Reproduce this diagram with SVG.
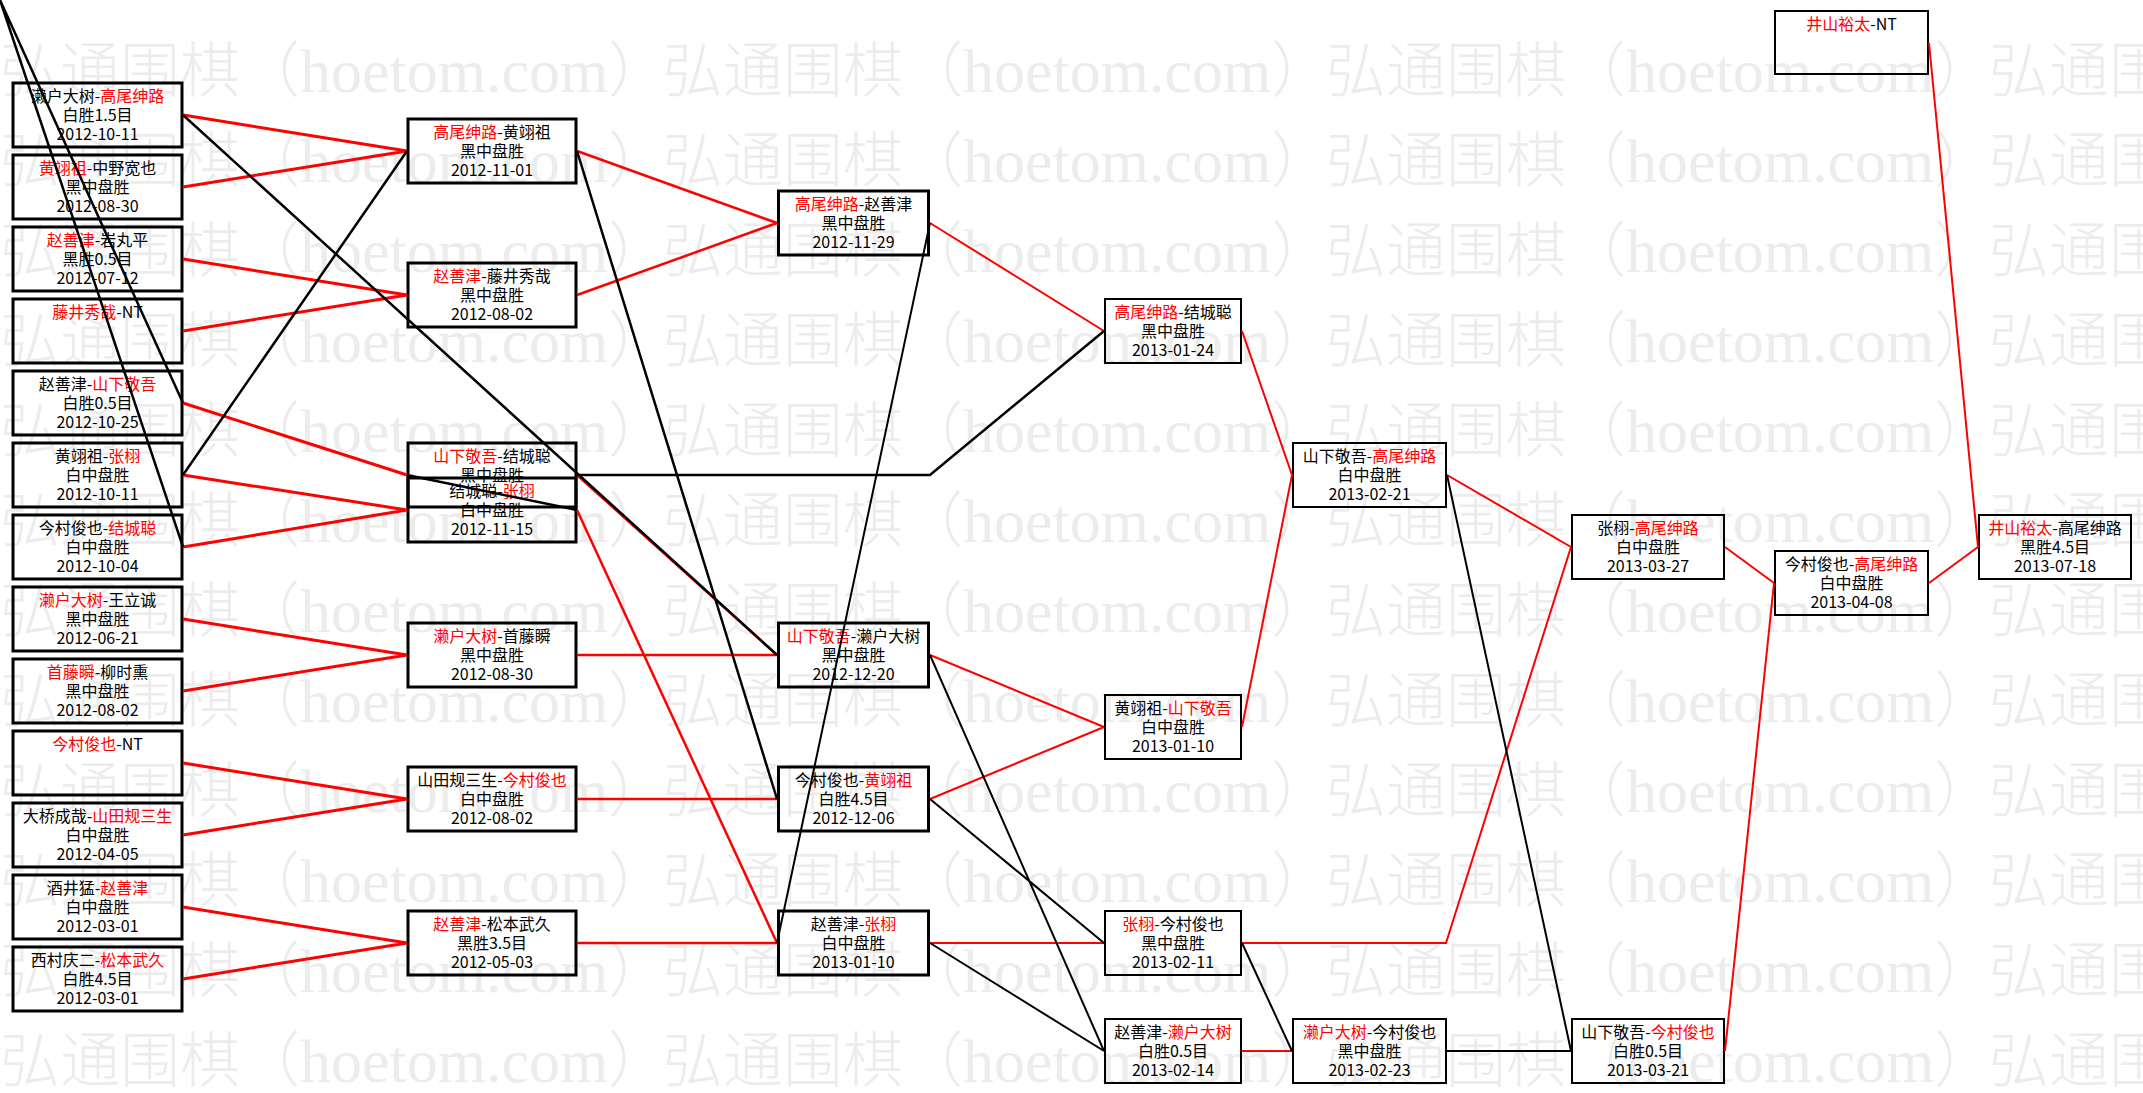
<svg xmlns="http://www.w3.org/2000/svg" width="2143" height="1093" viewBox="0 0 2143 1093">
<style>
.bg{fill:#ffffff}
.box{fill:none;stroke:#000}
.s3{stroke-width:3}
.s2{stroke-width:2}
.t{font-family:"Noto Sans CJK SC","Noto Sans CJK JP",sans-serif;font-size:16px;text-anchor:middle;fill:#000}
.r{fill:#ff0000}
.cr{stroke:#ff0000;fill:none}
.ck{stroke:#000;fill:none}
.w3{stroke-width:3}
.w25{stroke-width:2.5}
.w2{stroke-width:2}
.wmt{font-family:"Noto Sans CJK SC",sans-serif;font-size:60px;font-weight:300;fill:#ececec}
.wml{font-family:"Liberation Serif",serif;font-size:62px;font-weight:400}
</style>
<defs>
<pattern id="wm" patternUnits="userSpaceOnUse" x="0" y="22" width="663" height="90">
<text class="wmt" x="0" y="70">弘通围棋（<tspan class="wml">hoetom.com</tspan>）</text>
</pattern>
</defs>
<rect class="bg" x="0" y="0" width="2143" height="1093"/>
<rect x="0" y="22" width="2143" height="1071" fill="url(#wm)"/>

<g id="nodes">
<!-- column 1 -->
<g id="c1n1"><rect class="box s3" x="13" y="83" width="169" height="64"/><text class="t" x="97.5" y="102">濑户大树-<tspan class="r">高尾绅路</tspan></text><text class="t" x="97.5" y="121">白胜1.5目</text><text class="t" x="97.5" y="140">2012-10-11</text></g>
<g id="c1n2"><rect class="box s3" x="13" y="155" width="169" height="64"/><text class="t" x="97.5" y="174"><tspan class="r">黄翊祖</tspan>-中野宽也</text><text class="t" x="97.5" y="193">黑中盘胜</text><text class="t" x="97.5" y="212">2012-08-30</text></g>
<g id="c1n3"><rect class="box s3" x="13" y="227" width="169" height="64"/><text class="t" x="97.5" y="246"><tspan class="r">赵善津</tspan>-岩丸平</text><text class="t" x="97.5" y="265">黑胜0.5目</text><text class="t" x="97.5" y="284">2012-07-12</text></g>
<g id="c1n4"><rect class="box s3" x="13" y="299" width="169" height="64"/><text class="t" x="97.5" y="318"><tspan class="r">藤井秀哉</tspan>-NT</text></g>
<g id="c1n5"><rect class="box s3" x="13" y="371" width="169" height="64"/><text class="t" x="97.5" y="390">赵善津-<tspan class="r">山下敬吾</tspan></text><text class="t" x="97.5" y="409">白胜0.5目</text><text class="t" x="97.5" y="428">2012-10-25</text></g>
<g id="c1n6"><rect class="box s3" x="13" y="443" width="169" height="64"/><text class="t" x="97.5" y="462">黄翊祖-<tspan class="r">张栩</tspan></text><text class="t" x="97.5" y="481">白中盘胜</text><text class="t" x="97.5" y="500">2012-10-11</text></g>
<g id="c1n7"><rect class="box s3" x="13" y="515" width="169" height="64"/><text class="t" x="97.5" y="534">今村俊也-<tspan class="r">结城聪</tspan></text><text class="t" x="97.5" y="553">白中盘胜</text><text class="t" x="97.5" y="572">2012-10-04</text></g>
<g id="c1n8"><rect class="box s3" x="13" y="587" width="169" height="64"/><text class="t" x="97.5" y="606"><tspan class="r">濑户大树</tspan>-王立诚</text><text class="t" x="97.5" y="625">黑中盘胜</text><text class="t" x="97.5" y="644">2012-06-21</text></g>
<g id="c1n9"><rect class="box s3" x="13" y="659" width="169" height="64"/><text class="t" x="97.5" y="678"><tspan class="r">首藤瞬</tspan>-柳时熏</text><text class="t" x="97.5" y="697">黑中盘胜</text><text class="t" x="97.5" y="716">2012-08-02</text></g>
<g id="c1n10"><rect class="box s3" x="13" y="731" width="169" height="64"/><text class="t" x="97.5" y="750"><tspan class="r">今村俊也</tspan>-NT</text></g>
<g id="c1n11"><rect class="box s3" x="13" y="803" width="169" height="64"/><text class="t" x="97.5" y="822">大桥成哉-<tspan class="r">山田规三生</tspan></text><text class="t" x="97.5" y="841">白中盘胜</text><text class="t" x="97.5" y="860">2012-04-05</text></g>
<g id="c1n12"><rect class="box s3" x="13" y="875" width="169" height="64"/><text class="t" x="97.5" y="894">酒井猛-<tspan class="r">赵善津</tspan></text><text class="t" x="97.5" y="913">白中盘胜</text><text class="t" x="97.5" y="932">2012-03-01</text></g>
<g id="c1n13"><rect class="box s3" x="13" y="947" width="169" height="64"/><text class="t" x="97.5" y="966">西村庆二-<tspan class="r">松本武久</tspan></text><text class="t" x="97.5" y="985">白胜4.5目</text><text class="t" x="97.5" y="1004">2012-03-01</text></g>

<!-- column 2 -->
<g id="c2n1"><rect class="box s3" x="408" y="119" width="168" height="64"/><text class="t" x="492" y="138"><tspan class="r">高尾绅路</tspan>-黄翊祖</text><text class="t" x="492" y="157">黑中盘胜</text><text class="t" x="492" y="176">2012-11-01</text></g>
<g id="c2n2"><rect class="box s3" x="408" y="263" width="168" height="64"/><text class="t" x="492" y="282"><tspan class="r">赵善津</tspan>-藤井秀哉</text><text class="t" x="492" y="301">黑中盘胜</text><text class="t" x="492" y="320">2012-08-02</text></g>
<g id="c2n3"><rect class="box s3" x="408" y="443" width="168" height="64"/><text class="t" x="492" y="462"><tspan class="r">山下敬吾</tspan>-结城聪</text><text class="t" x="492" y="481">黑中盘胜</text></g>
<g id="c2n4"><rect class="box s3" x="408" y="478" width="168" height="64"/><text class="t" x="492" y="497">结城聪-<tspan class="r">张栩</tspan></text><text class="t" x="492" y="516">白中盘胜</text><text class="t" x="492" y="535">2012-11-15</text></g>
<g id="c2n5"><rect class="box s3" x="408" y="623" width="168" height="64"/><text class="t" x="492" y="642"><tspan class="r">濑户大树</tspan>-首藤瞬</text><text class="t" x="492" y="661">黑中盘胜</text><text class="t" x="492" y="680">2012-08-30</text></g>
<g id="c2n6"><rect class="box s3" x="408" y="767" width="168" height="64"/><text class="t" x="492" y="786">山田规三生-<tspan class="r">今村俊也</tspan></text><text class="t" x="492" y="805">白中盘胜</text><text class="t" x="492" y="824">2012-08-02</text></g>
<g id="c2n7"><rect class="box s3" x="408" y="911" width="168" height="64"/><text class="t" x="492" y="930"><tspan class="r">赵善津</tspan>-松本武久</text><text class="t" x="492" y="949">黑胜3.5目</text><text class="t" x="492" y="968">2012-05-03</text></g>

<!-- column 3 -->
<g id="c3n1"><rect class="box s3" x="778.5" y="191" width="150" height="64"/><text class="t" x="853.5" y="210"><tspan class="r">高尾绅路</tspan>-赵善津</text><text class="t" x="853.5" y="229">黑中盘胜</text><text class="t" x="853.5" y="248">2012-11-29</text></g>
<g id="c3n2"><rect class="box s3" x="778.5" y="623" width="150" height="64"/><text class="t" x="853.5" y="642"><tspan class="r">山下敬吾</tspan>-濑户大树</text><text class="t" x="853.5" y="661">黑中盘胜</text><text class="t" x="853.5" y="680">2012-12-20</text></g>
<g id="c3n3"><rect class="box s3" x="778.5" y="767" width="150" height="64"/><text class="t" x="853.5" y="786">今村俊也-<tspan class="r">黄翊祖</tspan></text><text class="t" x="853.5" y="805">白胜4.5目</text><text class="t" x="853.5" y="824">2012-12-06</text></g>
<g id="c3n4"><rect class="box s3" x="778.5" y="911" width="150" height="64"/><text class="t" x="853.5" y="930">赵善津-<tspan class="r">张栩</tspan></text><text class="t" x="853.5" y="949">白中盘胜</text><text class="t" x="853.5" y="968">2013-01-10</text></g>

<!-- column 4 -->
<g id="c4n1"><rect class="box s2" x="1105" y="299" width="136" height="64"/><text class="t" x="1173" y="318"><tspan class="r">高尾绅路</tspan>-结城聪</text><text class="t" x="1173" y="337">黑中盘胜</text><text class="t" x="1173" y="356">2013-01-24</text></g>
<g id="c4n2"><rect class="box s2" x="1105" y="695" width="136" height="64"/><text class="t" x="1173" y="714">黄翊祖-<tspan class="r">山下敬吾</tspan></text><text class="t" x="1173" y="733">白中盘胜</text><text class="t" x="1173" y="752">2013-01-10</text></g>
<g id="c4n3"><rect class="box s2" x="1105" y="911" width="136" height="64"/><text class="t" x="1173" y="930"><tspan class="r">张栩</tspan>-今村俊也</text><text class="t" x="1173" y="949">黑中盘胜</text><text class="t" x="1173" y="968">2013-02-11</text></g>
<g id="c4n4"><rect class="box s2" x="1105" y="1019" width="136" height="64"/><text class="t" x="1173" y="1038">赵善津-<tspan class="r">濑户大树</tspan></text><text class="t" x="1173" y="1057">白胜0.5目</text><text class="t" x="1173" y="1076">2013-02-14</text></g>

<!-- column 5 -->
<g id="c5n1"><rect class="box s2" x="1293" y="443" width="153" height="64"/><text class="t" x="1369.5" y="462">山下敬吾-<tspan class="r">高尾绅路</tspan></text><text class="t" x="1369.5" y="481">白中盘胜</text><text class="t" x="1369.5" y="500">2013-02-21</text></g>
<g id="c5n2"><rect class="box s2" x="1293" y="1019" width="153" height="64"/><text class="t" x="1369.5" y="1038"><tspan class="r">濑户大树</tspan>-今村俊也</text><text class="t" x="1369.5" y="1057">黑中盘胜</text><text class="t" x="1369.5" y="1076">2013-02-23</text></g>

<!-- column 6 -->
<g id="c6n1"><rect class="box s2" x="1572" y="515" width="152" height="64"/><text class="t" x="1648" y="534">张栩-<tspan class="r">高尾绅路</tspan></text><text class="t" x="1648" y="553">白中盘胜</text><text class="t" x="1648" y="572">2013-03-27</text></g>
<g id="c6n2"><rect class="box s2" x="1572" y="1019" width="152" height="64"/><text class="t" x="1648" y="1038">山下敬吾-<tspan class="r">今村俊也</tspan></text><text class="t" x="1648" y="1057">白胜0.5目</text><text class="t" x="1648" y="1076">2013-03-21</text></g>

<!-- column 7 -->
<g id="c7n1"><rect class="box s2" x="1775" y="11" width="153" height="63"/><text class="t" x="1851.5" y="30"><tspan class="r">井山裕太</tspan>-NT</text></g>
<g id="c7n2"><rect class="box s2" x="1775" y="551" width="153" height="64"/><text class="t" x="1851.5" y="570">今村俊也-<tspan class="r">高尾绅路</tspan></text><text class="t" x="1851.5" y="589">白中盘胜</text><text class="t" x="1851.5" y="608">2013-04-08</text></g>

<!-- column 8 -->
<g id="c8n1"><rect class="box s2" x="1979" y="515" width="152" height="64"/><text class="t" x="2055" y="534"><tspan class="r">井山裕太</tspan>-高尾绅路</text><text class="t" x="2055" y="553">黑胜4.5目</text><text class="t" x="2055" y="572">2013-07-18</text></g>
</g>

<g id="connectors">
<!-- winners (red) -->
<path class="cr w3" d="M183,115L407,151M183,187L407,151M183,259L407,295M183,331L407,295M183,403L407,475M183,475L407,510M183,547L407,510M183,619L407,655M183,691L407,655M183,763L407,799M183,835L407,799M183,907L407,943M183,979L407,943"/>
<path class="cr w25" d="M577,151L777,223M577,295L777,223M577,475L777,655M577,510L777,943M577,655L777,655M577,799L777,799M577,943L777,943"/>
<path class="cr w2" d="M930,223L1104,331M930,655L1104,727M930,799L1104,727M930,943L1104,943M1242,331L1292,475M1242,727L1292,475M1242,943L1446,943L1571,547M1242,1051L1292,1051M1447,475L1571,547M1725,547L1774,583M1725,1051L1774,583M1929,583L1978,547M1929,43L1978,547"/>
<!-- losers (black) -->
<path class="ck w25" d="M0,0L183,547M0,0L183,403M183,115L777,655M183,475L407,151"/>
<path class="ck w25" d="M407,475L577,510M577,475L930,475L1104,331M577,151L777,799"/>
<path class="ck w2" d="M930,223L777,943M930,655L1104,1051M930,799L1104,943M930,943L1104,1051M1242,943L1292,1051M1447,1051L1571,1051M1447,475L1571,1051"/>
</g>
</svg>
